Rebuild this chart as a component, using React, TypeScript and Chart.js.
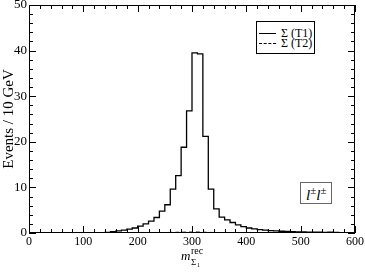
import React, { useEffect, useRef } from "react";
import { Chart, registerables } from "chart.js";

Chart.register(...registerables);

// Histogram bin lower edges (GeV)
const binEdges = [
  0, 10, 20, 30, 40, 50, 60, 70, 80, 90,
  100, 110, 120, 130, 140, 150, 160, 170, 180, 190,
  200, 210, 220, 230, 240, 250, 260, 270, 280, 290,
  300, 310, 320, 330, 340, 350, 360, 370, 380, 390,
  400, 410, 420, 430, 440, 450, 460, 470, 480, 490,
  500, 510, 520, 530, 540, 550, 560, 570, 580, 590,
];
const upperEdge = 600;

// Σ (T1) events / 10 GeV
const t1Values = [
  0, 0, 0, 0, 0, 0, 0, 0, 0, 0,
  0.01, 0.02, 0.04, 0.08, 0.15, 0.3, 0.45, 0.62, 0.85, 1.1,
  1.5, 2.0, 2.6, 3.4, 4.8, 6.2, 9.6, 12.6, 18.8, 26.8,
  39.5, 39.3, 21.2, 9.6, 5.3, 3.5, 2.9, 2.3, 1.8, 1.4,
  1.1, 0.9, 0.75, 0.62, 0.52, 0.45, 0.38, 0.33, 0.28, 0.25,
  0.22, 0.2, 0.18, 0.16, 0.14, 0.18, 0.15, 0.1, 0.08, 0.06,
];

// Σ (T2) events / 10 GeV
const t2Values = [
  0, 0, 0, 0, 0, 0, 0, 0, 0, 0,
  0, 0, 0, 0.01, 0.01, 0.02, 0.02, 0.03, 0.03, 0.04,
  0.05, 0.06, 0.07, 0.08, 0.1, 0.12, 0.14, 0.16, 0.18, 0.2,
  0.22, 0.2, 0.16, 0.12, 0.1, 0.08, 0.07, 0.06, 0.05, 0.04,
  0.03, 0.03, 0.02, 0.02, 0.02, 0.01, 0.01, 0.01, 0.01, 0,
  0, 0, 0, 0, 0, 0, 0, 0, 0, 0,
];

const xTickValues = [0, 100, 200, 300, 400, 500, 600];
const yTickValues = [0, 10, 20, 30, 40, 50];

const seriesNames = ["\u03A3 (T1)", "\u03A3 (T2)"];

const SERIF = "'Liberation Serif', 'Times New Roman', serif";

function toSteps(values: number[]) {
  const pts = binEdges.map((x, i) => ({ x, y: values[i] }));
  pts.push({ x: upperEdge, y: values[values.length - 1] });
  return pts;
}

const framePlugin = {
  id: "frame",
  afterDatasetsDraw(chart: any) {
    const { ctx, chartArea, scales } = chart;
    const { left, right, top, bottom } = chartArea;
    const xs = scales.x;
    const ys = scales.y;
    ctx.save();
    ctx.strokeStyle = "#000";
    ctx.lineWidth = 1;
    ctx.beginPath();
    for (let i = 0; i < xTickValues.length; i++) {
      const v = xTickValues[i];
      const px = Math.round(xs.getPixelForValue(v)) + 0.5;
      ctx.moveTo(px, bottom); ctx.lineTo(px, bottom - 7);
      ctx.moveTo(px, top); ctx.lineTo(px, top + 7);
      if (i < xTickValues.length - 1) {
        const step = (xTickValues[i + 1] - v) / 5;
        for (let k = 1; k < 5; k++) {
          const mx = Math.round(xs.getPixelForValue(v + k * step)) + 0.5;
          ctx.moveTo(mx, bottom); ctx.lineTo(mx, bottom - 4);
          ctx.moveTo(mx, top); ctx.lineTo(mx, top + 4);
        }
      }
    }
    for (let i = 0; i < yTickValues.length; i++) {
      const v = yTickValues[i];
      const py = Math.round(ys.getPixelForValue(v)) + 0.5;
      ctx.moveTo(left, py); ctx.lineTo(left + 7, py);
      ctx.moveTo(right, py); ctx.lineTo(right - 7, py);
      if (i < yTickValues.length - 1) {
        const step = (yTickValues[i + 1] - v) / 5;
        for (let k = 1; k < 5; k++) {
          const my = Math.round(ys.getPixelForValue(v + k * step)) + 0.5;
          ctx.moveTo(left, my); ctx.lineTo(left + 4, my);
          ctx.moveTo(right, my); ctx.lineTo(right - 4, my);
        }
      }
    }
    ctx.stroke();
    ctx.strokeRect(Math.round(left) + 0.5, Math.round(top) + 0.5, Math.round(right - left) - 1, Math.round(bottom - top) - 1);
    ctx.restore();
  },
};

export default function App() {
  const canvasRef = useRef<HTMLCanvasElement | null>(null);

  useEffect(() => {
    if (!canvasRef.current) return;
    const chart = new Chart(canvasRef.current, {
      type: "line",
      data: {
        datasets: [
          {
            label: seriesNames[0],
            data: toSteps(t1Values),
            stepped: true,
            borderColor: "#000",
            borderWidth: 1.3,
            pointRadius: 0,
            fill: false,
          },
          {
            label: seriesNames[1],
            data: toSteps(t2Values),
            stepped: true,
            borderColor: "#000",
            borderWidth: 1,
            borderDash: [4, 3],
            pointRadius: 0,
            fill: false,
          },
        ],
      },
      options: {
        animation: false,
        responsive: false,
        devicePixelRatio: 1,
        layout: { padding: { top: 5, right: 10, left: 0, bottom: 0 } },
        plugins: {
          legend: { display: false },
          tooltip: { enabled: false },
        },
        scales: {
          x: {
            type: "linear",
            min: 0,
            max: 600,
            grid: { display: false, drawTicks: false },
            border: { display: false },
            ticks: {
              stepSize: 100,
              padding: 2,
              color: "#000",
              font: { family: SERIF, size: 12 },
              maxRotation: 0,
            },
            afterFit(scale: any) {
              scale.height = 40;
              scale.paddingLeft = 0;
              scale.paddingRight = 0;
            },
          },
          y: {
            min: 0,
            max: 50,
            grid: { display: false, drawTicks: false },
            border: { display: false },
            ticks: {
              stepSize: 10,
              padding: 2,
              color: "#000",
              font: { family: SERIF, size: 13 },
            },
            title: {
              display: true,
              text: "Events / 10 GeV",
              color: "#000",
              font: { family: SERIF, size: 15 },
              padding: { top: 0, bottom: 0 },
            },
            afterFit(scale: any) {
              scale.width = 29;
              scale.paddingTop = 0;
              scale.paddingBottom = 0;
            },
          },
        },
      },
      plugins: [framePlugin],
    } as any);
    return () => chart.destroy();
  }, []);

  const abs = (l: number, t: number, extra: any = {}) => ({
    position: "absolute" as const,
    left: l,
    top: t,
    lineHeight: 1,
    whiteSpace: "nowrap" as const,
    fontFamily: SERIF,
    color: "#000",
    ...extra,
  });

  const supStyle = { fontSize: 11, position: "relative" as const, top: -6, fontStyle: "normal" };

  return (
    <div style={{ position: "absolute", left: 0, top: 0, width: 365, height: 273, background: "#fff" }}>
      <canvas ref={canvasRef} width={365} height={273} style={{ width: 365, height: 273, display: "block" }} />
      {/* legend */}
      <div style={{ position: "absolute", left: 256, top: 21, width: 57, height: 31, border: "1px solid #000", background: "#fff" }} />
      <div style={abs(259, 33, { width: 17, height: 0, borderTop: "1px solid #000" })} />
      <div style={abs(259, 43, { width: 17, height: 0, borderTop: "1px dashed #000" })} />
      <div style={abs(281, 27, { fontSize: 12 })}>{seriesNames[0]}</div>
      <div style={abs(281, 37, { fontSize: 12 })}>{seriesNames[1]}</div>
      {/* channel label */}
      <div style={{ position: "absolute", left: 300, top: 182, width: 30, height: 20, border: "1px solid #666", background: "#fff" }} />
      <div style={abs(306, 188, { fontSize: 15, fontStyle: "italic" })}>
        l<span style={supStyle}>±</span>l<span style={supStyle}>±</span>
      </div>
      {/* x-axis title */}
      <div style={abs(181, 249, { fontSize: 13, fontStyle: "italic" })}>m</div>
      <div style={abs(191, 246, { fontSize: 10 })}>rec</div>
      <div style={abs(191, 258, { fontSize: 9 })}>Σ</div>
      <div style={abs(197, 262, { fontSize: 6 })}>1</div>
    </div>
  );
}
